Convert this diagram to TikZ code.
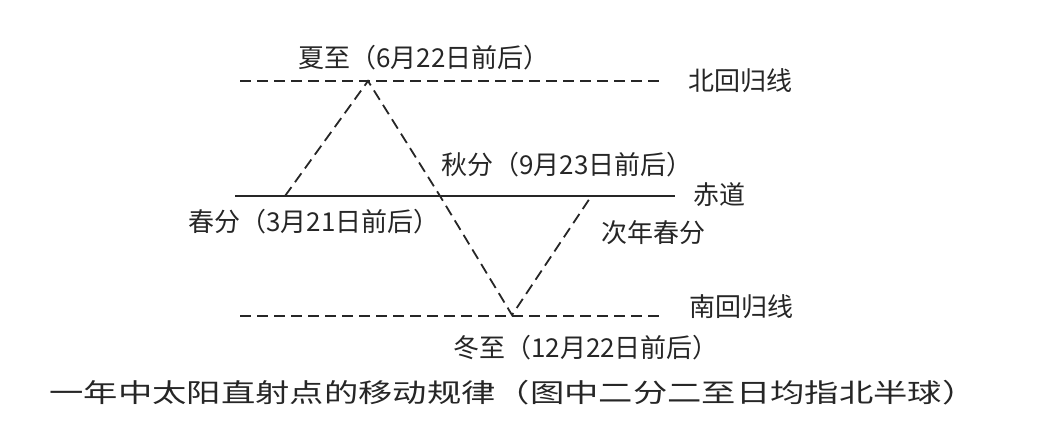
\documentclass[tikz,border=0pt]{standalone}
\usepackage{fontspec}
\usepackage{graphicx}
\setmainfont{Noto Sans CJK SC}
\begin{document}
\begin{tikzpicture}[x=1pt, y=-1pt, line width=1.8pt, black!85,
  lbl/.style={inner sep=0pt, text=black!85, font=\fontsize{26}{26}\selectfont},
  dashline/.style={dash pattern=on 11pt off 6pt}]
  \useasboundingbox (0,0) rectangle (1062,430);
  % latitude lines
  \coordinate (NL) at (240,81);
  \coordinate (NR) at (665,81);
  \coordinate (EL) at (235,196);
  \coordinate (ER) at (675,196);
  \coordinate (SL) at (240,316);
  \coordinate (SR) at (663,316);
  % path of the direct point
  \coordinate (spring) at (285,196);
  \coordinate (summer) at (368,81);
  \coordinate (autumn) at (440,196);
  \coordinate (winter) at (512,315);
  \coordinate (next) at (590,198);
  \draw[dashline] (NL) -- (NR);
  \draw (EL) -- (ER);
  \draw[dashline] (SL) -- (SR);
  \draw[dashline] (spring) -- (summer) -- (autumn) -- (winter) -- (next);
  % labels
  \node[lbl] (tcan) at (740,81) {北回归线};
  \node[lbl] (equ) at (719,195) {赤道};
  \node[lbl] (tcap) at (741,307) {南回归线};
  \node[lbl] (lsum) at (424,58) {夏至（6月22日前后）};
  \node[lbl] (laut) at (567,165) {秋分（9月23日前后）};
  \node[lbl] (lspr) at (314,222) {春分（3月21日前后）};
  \node[lbl] (lnext) at (653,233) {次年春分};
  \node[lbl] (lwin) at (586,348) {冬至（12月22日前后）};
  \node[lbl] (cap) at (513,393) {\scalebox{1.32}[1]{一年中太阳直射点的移动规律（图中二分二至日均指北半球）}};
\end{tikzpicture}
\end{document}
